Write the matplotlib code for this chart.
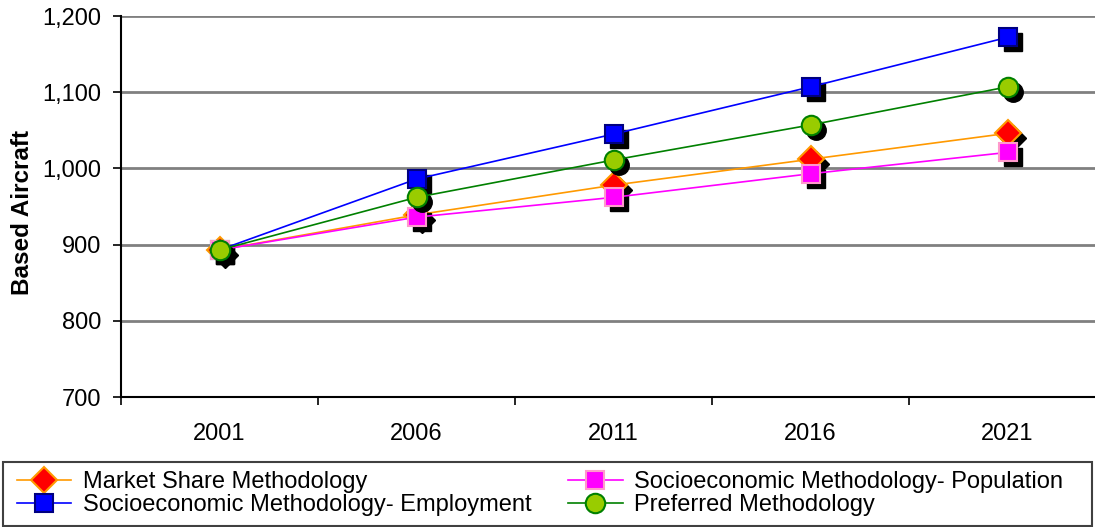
import matplotlib.pyplot as plt
import matplotlib.transforms as mtransforms
from matplotlib.patches import Rectangle
import numpy as np

plt.rcParams['font.family'] = ['Liberation Sans', 'DejaVu Sans']

years = ['2001', '2006', '2011', '2016', '2021']
market_share = [893, 939, 978, 1012, 1046]
socio_employment = [893, 986, 1045, 1107, 1172]
socio_population = [893, 936, 962, 993, 1021]
preferred = [893, 962, 1011, 1057, 1107]

series = [
    ('Market Share Methodology', market_share, '#FF9900', 'D', '#FF0000', '#FF9900', 13),
    ('Socioeconomic Methodology- Employment', socio_employment, '#0000FF', 's', '#0000FF', '#000080', 13),
    ('Socioeconomic Methodology- Population', socio_population, '#FF00FF', 's', '#FF00FF', '#FF99CC', 13),
    ('Preferred Methodology', preferred, '#008000', 'o', '#99CC00', '#008000', 14),
]

fig = plt.figure(figsize=[10.95, 5.27], dpi=100)
ax = fig.add_axes([121/1095, 1 - 397/527, 985/1095, 381/527])

x = np.arange(len(years)) + 0.5
shadow = mtransforms.offset_copy(ax.transData, fig=fig, x=5, y=-5, units='dots')

handles = []
for label, vals, lc, mk, fc, ec, ms in series:
    ax.plot(x, vals, linestyle='none', marker=mk, markersize=ms,
            markerfacecolor='black', markeredgecolor='black', transform=shadow, zorder=3)
    h, = ax.plot(x, vals, color=lc, linewidth=1.2, marker=mk, markersize=ms,
                 markerfacecolor=fc, markeredgecolor=ec, markeredgewidth=1.5,
                 label=label, zorder=3)
    handles.append(h)

ax.set_xlim(0, len(years))
ax.set_ylim(700, 1200)
ax.set_yticks(np.arange(700, 1201, 100))
ax.set_yticklabels(['{:,}'.format(v) for v in range(700, 1201, 100)], fontsize=17)
ax.set_xticks(np.arange(len(years) + 1))
ax.set_xticklabels([])
ax.set_xticks(x, minor=True)
ax.set_xticklabels(years, minor=True, fontsize=17)
ax.tick_params(axis='x', which='minor', length=0, pad=19)
ax.tick_params(axis='x', which='major', length=6, width=1.2, direction='out')
ax.tick_params(axis='y', length=6, width=1.2, direction='out', pad=8)

for yv in range(800, 1201, 100):
    ax.axhline(yv, color='#808080', linewidth=2, zorder=1)

ax.spines['top'].set_visible(False)
ax.spines['right'].set_visible(False)
ax.spines['left'].set_linewidth(1.5)
ax.spines['bottom'].set_linewidth(1.5)
ax.spines['left'].set_zorder(2)

ax.set_ylabel('Based Aircraft', fontsize=17.5, fontweight='bold', va='center')
ax.yaxis.set_label_coords(-0.1, 0.483)

# legend box spans the full width below the chart
fig.patches.append(Rectangle((3/1095, 1/527), 1089/1095, 64/527, transform=fig.transFigure,
                             facecolor='white', edgecolor='#404040', linewidth=1.5))
leg = fig.legend(handles=handles, ncol=2, loc='upper left',
                 bbox_to_anchor=(17/1095, 1 - 471/527),
                 fontsize=17, frameon=False,
                 handlelength=2.3, handletextpad=0.5, labelspacing=0.04,
                 borderpad=0, borderaxespad=0, columnspacing=1.55)

fig.savefig('out.png', dpi=100)
